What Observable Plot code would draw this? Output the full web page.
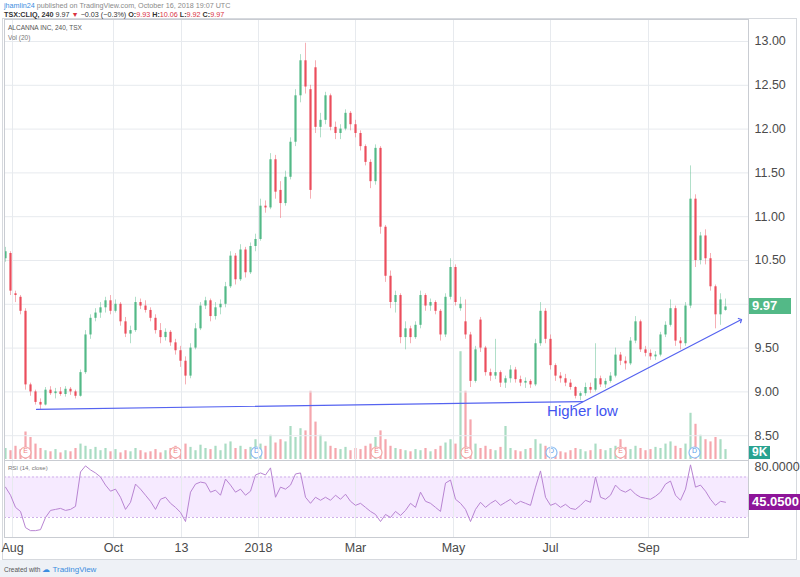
<!DOCTYPE html>
<html><head><meta charset="utf-8">
<script src="https://cdn.jsdelivr.net/npm/d3@7"></script>
<script src="https://cdn.jsdelivr.net/npm/@observablehq/plot@0.6"></script>
<style>
body{margin:0;background:#fff;font-family:"Liberation Sans",Arial,sans-serif;}
#wrap{position:relative;width:800px;height:577px;overflow:hidden;background:#fff;}
.abs{position:absolute;}
.abs svg{display:block;}
.hdr{font-size:7.2px;white-space:nowrap;}
.box{position:absolute;color:#fff;font-weight:bold;font-size:13px;line-height:16px;padding:0 3px;}
</style></head><body><div id="wrap"></div>
<script>
const open=[10.52,10.58,10.12,10.08,9.92,9.08,9.00,8.88,8.85,9.02,8.98,9.00,8.97,9.03,9.00,8.95,9.22,9.65,9.84,9.90,
9.96,10.04,9.92,10.00,9.80,9.66,9.70,10.02,9.98,9.93,9.84,9.70,9.62,9.68,9.56,9.47,9.35,9.18,9.50,9.72,
9.98,10.04,9.86,9.96,10.00,10.20,10.55,10.28,10.62,10.36,10.66,10.74,11.12,11.10,11.65,11.30,11.15,11.45,11.85,12.38,
12.78,12.45,12.70,12.02,12.10,12.38,12.02,11.95,12.00,12.18,12.05,11.95,11.80,11.62,11.40,11.78,10.88,10.32,10.02,10.10,
9.62,9.72,9.62,9.76,10.10,9.98,10.02,9.92,9.65,10.08,10.42,9.95,9.80,9.65,9.12,9.82,9.50,9.22,9.18,9.22,
9.10,9.15,9.25,9.14,9.10,9.12,9.08,9.55,9.92,9.60,9.30,9.18,9.15,9.10,9.05,8.95,8.98,9.05,9.02,9.15,
9.08,9.12,9.18,9.42,9.35,9.32,9.58,9.80,9.48,9.44,9.40,9.42,9.65,9.76,9.95,9.58,9.55,9.98,11.20,10.50,
10.78,10.52,10.20,9.88,9.93];
const high=[10.65,10.60,10.15,10.10,9.95,9.10,9.02,8.92,9.05,9.06,9.04,9.05,9.06,9.05,9.02,9.25,9.70,9.88,9.95,10.02,
10.08,10.10,10.05,10.02,9.85,9.75,10.08,10.06,10.04,9.96,9.88,9.78,9.72,9.70,9.60,9.52,9.40,9.55,9.78,10.02,
10.08,10.06,10.02,10.05,10.25,10.60,10.58,10.68,10.65,10.70,10.80,11.20,11.18,11.72,11.70,11.40,11.52,11.90,12.45,12.85,
12.98,12.50,12.78,12.18,12.42,12.40,12.08,12.05,12.22,12.20,12.10,11.98,11.82,11.65,11.82,11.80,10.90,10.38,10.15,10.12,
9.80,9.75,9.80,10.15,10.12,10.06,10.04,9.94,10.12,10.52,10.45,10.08,10.05,9.68,9.52,9.85,9.52,9.26,9.60,9.24,
9.18,9.30,9.28,9.18,9.16,9.14,9.60,10.02,9.95,9.65,9.32,9.22,9.20,9.14,9.06,9.00,9.10,9.10,9.55,9.18,
9.15,9.22,9.50,9.45,9.40,9.62,9.86,9.82,9.52,9.48,9.46,9.68,9.80,10.05,9.98,9.62,10.02,11.58,11.25,10.82,
10.85,10.58,10.22,10.12,10.06];
const low=[10.48,10.10,10.02,9.88,9.02,8.95,8.85,8.80,8.84,8.96,8.92,8.95,8.94,8.96,8.92,8.94,9.20,9.60,9.80,9.84,
9.90,9.88,9.90,9.75,9.62,9.55,9.68,9.94,9.90,9.80,9.66,9.55,9.58,9.52,9.42,9.28,9.08,9.15,9.48,9.70,
9.94,9.80,9.82,9.88,9.96,10.18,10.22,10.26,10.30,10.34,10.60,10.72,11.04,11.08,11.20,10.98,11.12,11.42,11.80,12.30,
12.40,11.20,11.95,11.90,12.05,11.98,11.88,11.88,11.98,11.98,11.90,11.75,11.58,11.32,11.36,10.80,10.25,9.95,9.90,9.55,
9.48,9.55,9.60,9.72,9.92,9.92,9.88,9.58,9.62,10.05,9.98,9.92,9.60,9.05,9.10,9.45,9.18,9.12,9.14,9.05,
9.04,9.10,9.10,9.06,9.04,9.04,9.06,9.52,9.55,9.25,9.12,9.10,9.06,9.02,8.92,8.90,8.95,8.98,9.00,9.05,
9.04,9.10,9.16,9.30,9.25,9.30,9.55,9.45,9.40,9.36,9.36,9.40,9.62,9.74,9.52,9.48,9.52,9.95,10.42,10.45,
10.45,10.15,9.72,9.76,9.92];
const close=[10.60,10.15,10.10,9.92,9.08,9.00,8.88,8.85,9.02,8.98,9.00,8.97,9.03,9.00,8.95,9.22,9.65,9.84,9.90,9.96,
10.04,9.92,10.00,9.80,9.66,9.70,10.02,9.98,9.93,9.84,9.70,9.62,9.68,9.56,9.47,9.35,9.18,9.50,9.72,9.98,
10.04,9.86,9.96,10.00,10.20,10.55,10.28,10.62,10.36,10.66,10.74,11.12,11.10,11.65,11.28,11.15,11.45,11.85,12.38,12.78,
12.48,11.30,12.02,12.10,12.38,12.02,11.95,12.00,12.18,12.05,11.95,11.80,11.62,11.40,11.78,10.88,10.32,10.02,10.10,9.62,
9.72,9.62,9.76,10.10,9.98,10.02,9.92,9.65,10.08,10.42,10.02,10.00,9.65,9.12,9.48,9.50,9.22,9.18,9.22,9.10,
9.15,9.25,9.14,9.10,9.12,9.08,9.55,9.92,9.60,9.30,9.18,9.15,9.10,9.05,8.95,8.98,9.05,9.02,9.15,9.08,
9.12,9.18,9.42,9.35,9.32,9.58,9.80,9.48,9.44,9.40,9.42,9.65,9.76,9.95,9.58,9.55,9.98,11.20,10.50,10.78,
10.52,10.20,9.88,10.05,9.97];
const volume=[10,8,12,9,25,20,14,10,8,7,9,6,8,7,10,14,12,9,11,8,
10,7,9,6,8,7,10,8,6,7,9,6,8,10,12,9,14,11,8,13,
10,9,12,8,14,16,10,12,9,11,18,14,12,22,15,18,16,30,20,28,
26,62,34,22,16,12,10,9,11,8,10,9,12,14,20,26,18,12,10,9,
8,7,9,8,10,7,9,12,15,18,14,98,62,36,14,10,12,9,8,11,
30,10,8,7,9,10,18,14,12,9,8,7,6,8,10,9,7,8,14,9,
8,10,12,18,11,9,12,10,8,9,11,10,14,16,12,10,14,42,32,22,
18,16,20,18,9];
const rsi=[60,52,40,36,20,17,17,18,30,37,38,39,37,38,41,75,81,77,74,70,
62,56,58,50,38,45,63,58,52,46,38,48,50,44,40,35,26,55,63,65,
64,55,57,52,68,62,55,58,52,56,72,74,72,79,50,60,58,62,73,74,
50,44,50,47,50,47,52,48,53,46,42,44,40,36,33,26,33,30,36,32,
37,44,40,55,46,44,40,36,64,67,48,44,38,26,38,45,40,44,47,42,
45,48,43,46,44,42,60,76,50,42,44,40,43,39,38,42,47,45,70,50,
48,52,62,57,55,58,53,50,49,48,51,55,63,66,52,47,58,82,60,62,
56,48,42,46,45.05];
const tickIdx=[1.4,21.6,35.2,50.6,70,89.6,109,128.6];
const tickLabels=["Aug","Oct","13","2018","Mar","May","Jul","Sep"];
const priceTicks=[8.5,9,9.5,10,10.5,11,11.5,12,12.5,13];
const priceLabels=[8.5,9,9.5,10.5,11,11.5,12,12.5,13];
const rsiTicks=[80];
const rsiBand=[{lo:30,hi:70}];
const trendFlat=[{i:6.2,p:8.80},{i:115.4,p:8.89}];
const trendUp=[{i:113.6,p:8.83},{i:147,p:9.82}];
const earnings=[4,34,74.2,92.2,123];
const dividends=[50.2,109.2,137.8];
const annotation=[{i:115.4,p:8.775,text:"Higher low"}];

const G="#53b987", R="#eb4d5c", BLUE="#5563f0";
const candles=close.map((c,i)=>({i,o:open[i],h:high[i],l:low[i],c,v:volume[i],r:rsi[i]}));
const up=d=>d.c>=d.o, dn=d=>d.c<d.o;
const xDomain=[-0.2,148.6];
const FONT='"Liberation Sans",Arial,sans-serif';
const common={width:800,marginLeft:4,marginRight:52,marginTop:0,style:{background:"transparent",fontFamily:FONT,overflow:"visible"}};

const wrap=document.getElementById("wrap");
function place(el,top){const d=document.createElement("div");d.className="abs";d.style.left="0px";d.style.top=top+"px";d.appendChild(el);wrap.appendChild(d);return d;}
function html(s,css){const d=document.createElement("div");d.className="abs";d.style.cssText+=css;d.innerHTML=s;wrap.appendChild(d);return d;}

html("","left:2px;top:18px;width:795px;height:542px;border:1px solid #d6d9de;box-sizing:border-box;");
html("","left:0;top:560px;width:800px;height:17px;background:#eef1f6;");

const volPlot=Plot.plot({...common,height:441,marginBottom:1,
  x:{domain:xDomain,axis:null,label:null},y:{domain:[0,400],axis:null},
  marks:[
    Plot.ruleX(candles,{filter:up,x:"i",y:"v",stroke:G,strokeOpacity:0.5,strokeWidth:2.2}),
    Plot.ruleX(candles,{filter:dn,x:"i",y:"v",stroke:R,strokeOpacity:0.5,strokeWidth:2.2}),
    Plot.dot(earnings,{x:d=>d,frameAnchor:"bottom",dy:-7,r:5.5,fill:"white",stroke:"#f2a7a7",strokeWidth:1.2}),
    Plot.text(earnings,{x:d=>d,frameAnchor:"bottom",dy:-7,text:()=>"E",fill:"#ef7f7f",fontSize:7}),
    Plot.dot(dividends,{x:d=>d,frameAnchor:"bottom",dy:-7,r:5.5,fill:"white",stroke:"#8cbcf2",strokeWidth:1.2}),
    Plot.text(dividends,{x:d=>d,frameAnchor:"bottom",dy:-7,text:()=>"D",fill:"#5a9be8",fontSize:7})
  ]});

const mainPlot=Plot.plot({...common,height:441,marginBottom:0,
  x:{domain:xDomain,axis:null,label:null},y:{domain:[8.2169,13.2511],axis:null,label:null},
  marks:[
    Plot.gridX(tickIdx,{stroke:"#e7eaee",strokeOpacity:1}),
    Plot.gridY(priceTicks,{stroke:"#e7eaee",strokeOpacity:1}),
    Plot.axisY(priceLabels,{anchor:"right",label:null,tickSize:0,tickPadding:6,tickFormat:d=>d.toFixed(2),fontSize:12.5,fill:"#4a4a4a"}),
    Plot.ruleX(candles,{filter:up,x:"i",y1:"l",y2:"h",stroke:G,strokeOpacity:0.45}),
    Plot.ruleX(candles,{filter:dn,x:"i",y1:"l",y2:"h",stroke:R,strokeOpacity:0.45}),
    Plot.ruleX(candles,{filter:up,x:"i",y1:"o",y2:"c",stroke:G,strokeWidth:2.2}),
    Plot.ruleX(candles,{filter:dn,x:"i",y1:"o",y2:"c",stroke:R,strokeWidth:2.2}),
    Plot.line(trendFlat,{x:"i",y:"p",stroke:BLUE,strokeWidth:1.2}),
    Plot.line(trendUp,{x:"i",y:"p",stroke:BLUE,strokeWidth:1.2,markerEnd:"arrow"}),
    Plot.text(annotation,{x:"i",y:"p",text:"text",fill:"#4254f0",fontSize:15}),
    Plot.frame({stroke:"#c9ccd2"})
  ]});

const rsiPlot=Plot.plot({...common,height:101,marginBottom:24,
  x:{domain:xDomain,label:null},y:{domain:[10.24,86.3],axis:null,label:null},
  marks:[
    Plot.rect(rsiBand,{x1:()=>xDomain[0],x2:()=>xDomain[1],y1:"lo",y2:"hi",fill:"#9915ff",fillOpacity:0.09}),
    Plot.ruleY([30,70],{stroke:"#cfb0ea",strokeDasharray:"2,2"}),
    Plot.gridX(tickIdx,{stroke:"#e7eaee",strokeOpacity:1}),
    Plot.line(candles,{x:"i",y:"r",stroke:"#b884d2",strokeWidth:1}),
    Plot.axisX(tickIdx,{label:null,tickSize:0,tickPadding:6,tickFormat:d=>tickLabels[tickIdx.indexOf(d)],fontSize:12.5,fill:"#4a4a4a"}),
    Plot.axisY(rsiTicks,{anchor:"right",label:null,tickSize:0,tickPadding:6,tickFormat:d=>d.toFixed(4),fontSize:12.5,fill:"#4a4a4a"}),
    Plot.frame({stroke:"#c9ccd2"})
  ]});

place(volPlot,19);
place(mainPlot,19);
place(rsiPlot,460);

const last=candles[candles.length-1];
const yMain=mainPlot.scale("y"), yRsi=rsiPlot.scale("y");
html(last.c.toFixed(2),`left:749px;top:${19+yMain.apply(last.c)-8}px;width:36px;height:16px;background:${G};`).className="box";
const b1=html(last.v+"K",`left:749px;top:446px;height:13px;line-height:13px;background:#2aa391;font-size:12px;`);b1.className="box";
const b2=html(last.r.toFixed(4),`left:749px;top:${460+yRsi.apply(last.r)-8}px;height:16px;background:#8e1599;`);b2.className="box";

html('<span style="color:#3b8de0">jhamlin24</span> published on TradingView.com, October 16, 2018 19:07 UTC',"left:4px;top:1px;color:#8a8a8a;").className="abs hdr";
html('<b style="color:#333">TSX:CLIQ, 240</b> <span style="color:#333">9.97</span> <span style="color:#d9333f">&#9660;</span> <span style="color:#333">&minus;0.03 (&minus;0.3%)</span> <b style="color:#333">O:</b><span style="color:#d9333f">9.93</span> <b style="color:#333">H:</b><span style="color:#d9333f">10.06</span> <b style="color:#333">L:</b><span style="color:#d9333f">9.92</span> <b style="color:#333">C:</b><span style="color:#d9333f">9.97</span>',"left:4px;top:10px;").className="abs hdr";
html("ALCANNA INC, 240, TSX","left:8px;top:24px;font-size:6.5px;color:#555;");
html("Vol (20)","left:8px;top:34px;font-size:6.5px;color:#777;");
html("RSI (14, close)","left:8px;top:465px;font-size:6px;color:#777;");
html('Created with <span style="color:#3b8de0;font-size:8px">&#9729; TradingView</span>',"left:4px;top:565px;font-size:6.5px;color:#555;");
</script></body></html>
